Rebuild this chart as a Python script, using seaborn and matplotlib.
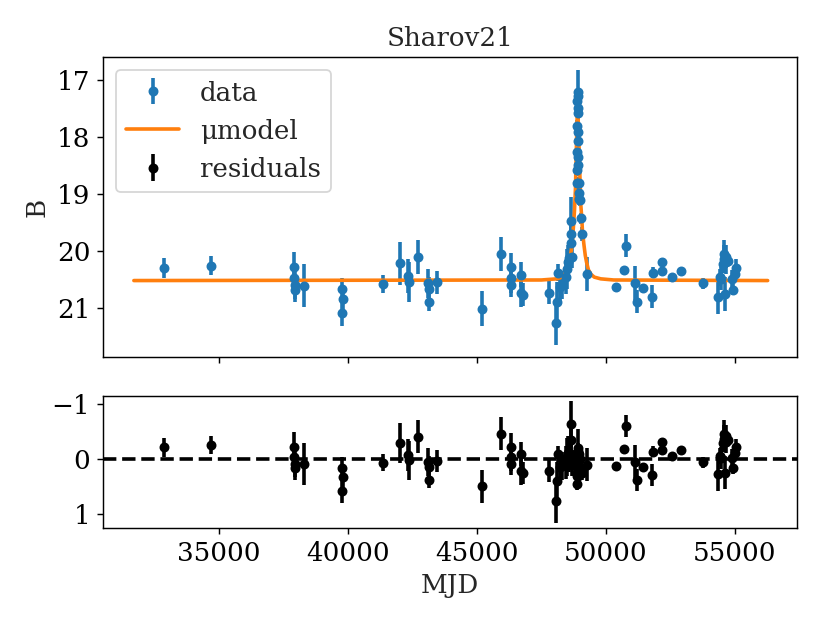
import numpy as np
import pandas as pd
import seaborn as sns
import matplotlib
matplotlib.use("Agg")
import matplotlib.pyplot as plt

# light curve points
mjd = [32860, 34690, 37900, 37910, 37930, 37960, 38310, 39760, 39790, 39770,
       41354, 42000, 42320, 42360, 42707, 43120, 43130, 43125, 43442, 45197,
       45944, 46318, 46320, 46330, 46705, 46710, 46783, 47800, 48082, 48121,
       48160, 48225, 48290, 48445, 48484, 48522, 48585, 48639, 48650, 48660,
       48677, 48900, 48905, 48895, 48910, 48900, 48880, 48905, 48915, 48890,
       48920, 48930, 48860, 48880, 48950, 48960, 48965, 48990, 49037, 49064,
       49280, 50378, 50710, 50765, 51125, 51203, 51447, 51795, 51834, 52158,
       52170, 52545, 52904, 53767, 54346, 54412, 54480, 54520, 54567, 54590,
       54618, 54640, 54670, 54748, 54876, 54928, 55005, 55060]
mag = [20.30, 20.26, 20.29, 20.47, 20.60, 20.68, 20.61, 20.67, 20.85, 21.09,
       20.58, 20.22, 20.44, 20.54, 20.11, 20.57, 20.66, 20.90, 20.55, 21.01,
       20.05, 20.29, 20.48, 20.60, 20.42, 20.73, 20.77, 20.73, 21.26, 20.89,
       20.38, 20.63, 20.60, 20.46, 20.32, 20.19, 20.13, 19.47, 19.70, 19.86,
       20.10, 17.22, 17.29, 17.38, 17.50, 17.58, 17.81, 17.91, 18.08, 18.26,
       18.35, 18.49, 18.58, 18.81, 18.81, 18.99, 19.09, 19.11, 19.43, 19.70,
       20.40, 20.64, 20.33, 19.91, 20.56, 20.89, 20.65, 20.80, 20.38, 20.35,
       20.20, 20.46, 20.35, 20.57, 20.80, 20.46, 20.49, 20.23, 20.14, 20.06,
       20.76, 20.20, 20.10, 20.17, 20.49, 20.68, 20.41, 20.30]
mag_err = [0.17, 0.17, 0.27, 0.25, 0.25, 0.22, 0.38, 0.20, 0.20, 0.22,
           0.15, 0.37, 0.30, 0.35, 0.30, 0.25, 0.20, 0.15, 0.20, 0.30,
           0.30, 0.25, 0.25, 0.20, 0.22, 0.25, 0.20, 0.20, 0.39, 0.35,
           0.15, 0.25, 0.25, 0.30, 0.35, 0.30, 0.25, 0.42, 0.30, 0.25,
           0.20, 0.40, 0.10, 0.10, 0.10, 0.10, 0.10, 0.10, 0.10, 0.10,
           0.10, 0.10, 0.10, 0.10, 0.10, 0.10, 0.10, 0.10, 0.10, 0.12,
           0.30, 0.06, 0.03, 0.20, 0.30, 0.20, 0.03, 0.20, 0.10, 0.07,
           0.07, 0.03, 0.03, 0.10, 0.30, 0.15, 0.20, 0.15, 0.25, 0.25,
           0.30, 0.20, 0.20, 0.10, 0.15, 0.10, 0.12, 0.15]
resid = [-0.22, -0.26, -0.23, -0.05, 0.08, 0.16, 0.09, 0.15, 0.33, 0.57,
         0.06, -0.30, -0.08, 0.02, -0.41, 0.05, 0.14, 0.38, 0.03, 0.49,
         -0.47, -0.23, -0.04, 0.08, -0.10, 0.21, 0.25, 0.21, 0.76, 0.39,
         -0.10, 0.14, 0.12, 0.05, -0.04, -0.12, -0.02, -0.65, -0.35, -0.10,
         0.10, -0.15, -0.10, 0.00, -0.20, 0.20, 0.10, 0.30, -0.10, 0.25,
         -0.05, 0.10, 0.30, 0.45, -0.10, 0.20, 0.15, 0.00, 0.20, 0.25,
         0.10, 0.12, -0.19, -0.61, 0.04, 0.37, 0.13, 0.28, -0.14, -0.17,
         -0.32, -0.06, -0.17, 0.05, 0.27, -0.06, -0.03, -0.29, -0.38, -0.46,
         0.24, -0.32, -0.42, -0.35, -0.03, 0.16, -0.11, -0.22]

# fitted model curve, sampled by eye
model_mjd = [31700, 47500, 48100, 48300, 48480, 48600, 48700, 48780, 48820, 48860,
             48900, 48940, 48980, 49020, 49060, 49090, 49150, 49200, 49250, 49320,
             49420, 49550, 49800, 50300, 56270]
model_mag = [20.52, 20.51, 20.49, 20.46, 20.36, 20.17, 19.85, 19.30, 18.90, 18.10,
             17.40, 17.90, 18.50, 19.15, 19.40, 19.65, 19.90, 20.08, 20.20, 20.33,
             20.41, 20.46, 20.49, 20.51, 20.52]

df = pd.DataFrame({"MJD": mjd, "B": mag, "err": mag_err, "resid": resid})
model = pd.DataFrame({"MJD": model_mjd, "B": model_mag})

sns.set_style("ticks", {"axes.edgecolor": "black", "xtick.color": "black",
                        "ytick.color": "black", "xtick.direction": "out",
                        "ytick.direction": "out"})
plt.rcParams["font.family"] = ["DejaVu Serif"]
plt.rcParams["font.size"] = 14.5

fig = plt.figure(figsize=(830 / 130, 623 / 130), dpi=130)
ax1 = fig.add_axes([0.124, 0.427, 0.836, 0.4815])
ax2 = fig.add_axes([0.124, 0.1525, 0.836, 0.2115], sharex=ax1)

h_data = ax1.errorbar(df["MJD"], df["B"], yerr=df["err"], fmt="o", color="#1f77b4",
                      ms=4.5, elinewidth=2, capsize=0, label="data")
sns.lineplot(data=model, x="MJD", y="B", ax=ax1, color="#ff7f0e", lw=2,
             label="μmodel", sort=False)
h_model = ax1.get_lines()[-1]

h_res = ax2.errorbar(df["MJD"], df["resid"], yerr=df["err"], fmt="o", color="black",
                     ms=4.5, elinewidth=2, capsize=0, label="residuals")
ax2.axhline(0, color="black", ls="--", lw=2)

ax1.set_xlim(30500, 57400)
ax1.set_ylim(21.86, 16.6)
ax1.set_yticks([17, 18, 19, 20, 21])
ax1.set_ylabel("B")
ax1.set_xlabel("")
ax1.set_title("Sharov21", fontsize=14.5)
ax1.tick_params(labelbottom=False)

ax2.set_ylim(1.25, -1.15)
ax2.set_yticks([-1, 0, 1])
ax2.set_xticks([35000, 40000, 45000, 50000, 55000])
ax2.set_xlabel("MJD")

for a in (ax1, ax2):
    for s in a.spines.values():
        s.set_linewidth(0.8)
        s.set_visible(True)

ax1.legend([h_data, h_model, h_res], ["data", "μmodel", "residuals"],
           loc="upper left", fontsize=14.5, framealpha=0.8)

fig.savefig("out.png", dpi=130)
